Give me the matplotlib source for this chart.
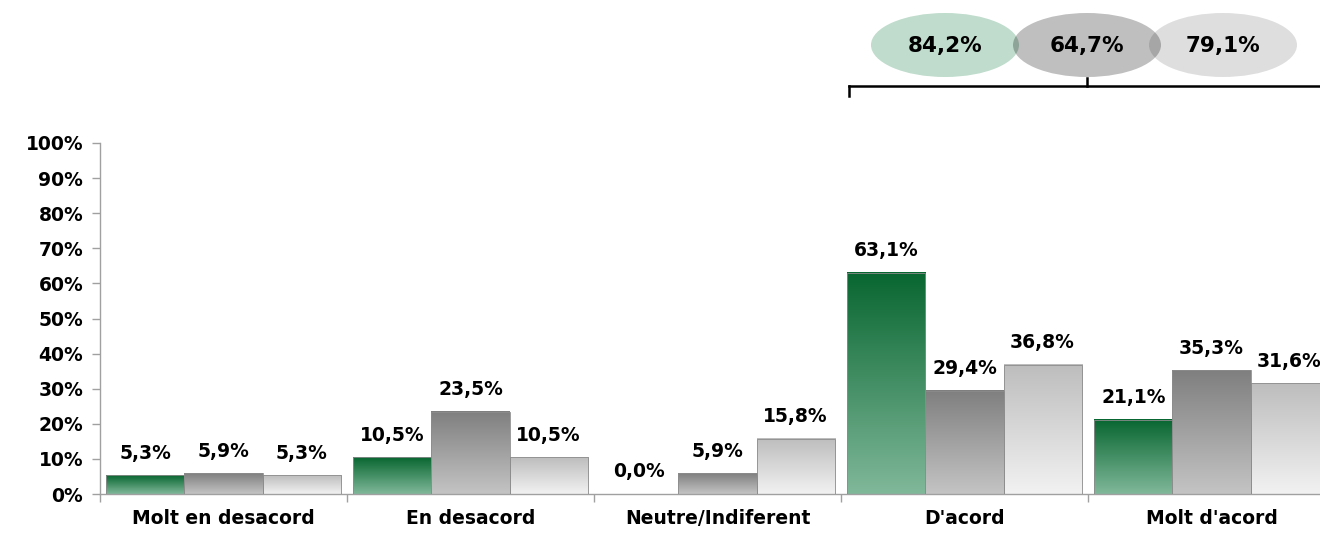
import matplotlib.pyplot as plt
import numpy as np
from matplotlib.colors import LinearSegmentedColormap
from matplotlib.patches import Ellipse
from matplotlib.lines import Line2D

categories = ["Molt en desacord", "En desacord", "Neutre/Indiferent", "D'acord", "Molt d'acord"]
serie_verda = [5.3, 10.5, 0.0, 63.1, 21.1]
serie_gris = [5.9, 23.5, 5.9, 29.4, 35.3]
serie_clara = [5.3, 10.5, 15.8, 36.8, 31.6]
# totals shown in the ellipses above "D'acord" + "Molt d'acord"
totals = [84.2, 64.7, 79.1]
yticks = list(range(0, 101, 10))

plt.rcParams['font.family'] = ['DejaVu Sans']
plt.rcParams['font.weight'] = 'bold'

W, H = 1320, 533
fig = plt.figure(figsize=(W / 100, H / 100), dpi=100)
ax = fig.add_axes([100 / W, 39 / H, 1235 / W, 351 / H])

# colour gradients (top -> bottom)
grads = [
    ("#086630", "#80b89a"),
    ("#7f7f7f", "#c4c4c4"),
    ("#bdbdbd", "#f2f2f2"),
]
series = [serie_verda, serie_gris, serie_clara]
fs = 13.5

bw = 0.316
x = np.arange(len(categories))
for k, (vals, (ctop, cbot)) in enumerate(zip(series, grads)):
    cmap = LinearSegmentedColormap.from_list("g%d" % k, [cbot, ctop])
    grad = np.linspace(0, 1, 256).reshape(-1, 1)
    for i, v in enumerate(vals):
        x0 = x[i] - 1.5 * bw + k * bw
        if v > 0:
            ax.imshow(grad, extent=[x0, x0 + bw, 0, v], origin='lower', aspect='auto',
                      cmap=cmap, zorder=2, interpolation='bilinear')
            ax.bar(x0, v, width=bw, align='edge', facecolor='none',
                   edgecolor='#8c8c8c', linewidth=0.6, zorder=3)
        lbl = ("%.1f%%" % v).replace(".", ",")
        ax.annotate(lbl, (x0 + bw / 2, v), xytext=(0, 9), textcoords='offset points',
                    ha='center', va='bottom', fontsize=fs, fontweight='bold', zorder=4)

ax.set_xlim(-0.5, len(categories) - 0.5)
ax.set_ylim(0, 100)
ax.set_yticks(yticks)
ax.set_yticklabels(["%d%%" % t for t in yticks], fontsize=fs, fontweight='bold')
ax.set_xticks(x)
ax.set_xticklabels(categories, fontsize=fs, fontweight='bold')
ax.set_xticks(np.arange(-0.5, len(categories), 1), minor=True)
ax.tick_params(axis='x', which='major', length=0, pad=11)
ax.tick_params(axis='x', which='minor', length=6, color='#a0a0a0', width=1)
ax.tick_params(axis='y', length=6, color='#a0a0a0', width=1, pad=6)
for s in ['top', 'right']:
    ax.spines[s].set_visible(False)
for s in ['left', 'bottom']:
    ax.spines[s].set_color('#a0a0a0')
    ax.spines[s].set_linewidth(1)

# summary ellipses (first opaque, the others darken what is below them)
ell_cols = [((0.75, 0.863, 0.80), 1.0), ((0, 0, 0), 0.25), ((0, 0, 0), 0.13)]
ell_x = [945, 1087, 1223]
for cx, t, (c, a) in zip(ell_x, totals, ell_cols):
    e = Ellipse((cx / W, 1 - 45 / H), 148 / W, 64 / H, transform=fig.transFigure,
                facecolor=c, alpha=a, edgecolor='none')
    fig.add_artist(e)
for cx, t in zip(ell_x, totals):
    fig.text(cx / W, 1 - 46 / H, ("%.1f%%" % t).replace(".", ","), ha='center', va='center',
             fontsize=15.5, fontweight='bold')

# bracket
by = 1 - 86 / H
fig.add_artist(Line2D([849 / W, 1330 / W], [by, by], transform=fig.transFigure, color='black', lw=1.8))
fig.add_artist(Line2D([849 / W, 849 / W], [by, 1 - 96 / H], transform=fig.transFigure, color='black', lw=1.8))
fig.add_artist(Line2D([1087 / W, 1087 / W], [by, 1 - 78 / H], transform=fig.transFigure, color='black', lw=1.8))

fig.savefig("out.png", dpi=100)
